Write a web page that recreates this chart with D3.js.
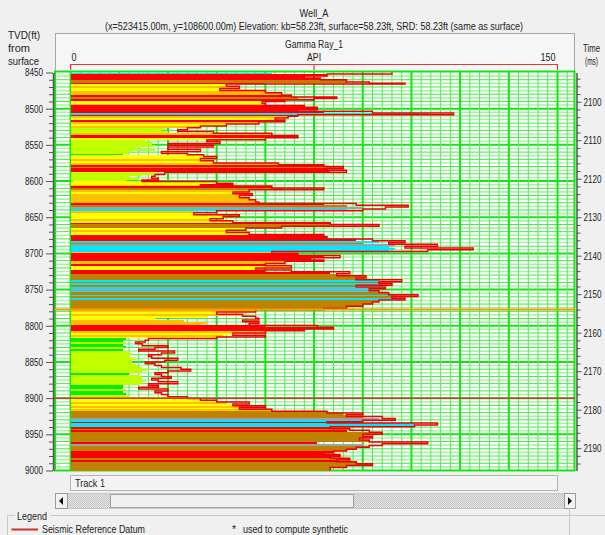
<!DOCTYPE html>
<html lang="en">
<head>
<meta charset="UTF-8">
<title>Well_A Gamma Ray</title>
<script src="https://d3js.org/d3.v7.min.js"></script>
<style>
  body { margin: 0; background: #f0f0f0; }
  svg text { font-family: "Liberation Sans", Arial, sans-serif; font-size: 10.5px; fill: #222; }
  .axis path, .axis line { stroke: #555; }
  .axis path { stroke-width: 1.5; }
</style>
</head>
<body>
<svg id="chart" width="605" height="535"></svg>
<script>
// log samples: top of each interval (ft), gamma ray value (API), where the colour fill stops, fill colour code
const segTop = [
  8450, 8452, 8455, 8457.5, 8460, 8463, 8465, 8466, 8469, 8472,
  8475, 8478, 8481.5, 8484, 8486, 8488, 8490, 8493, 8495.5, 8498,
  8501, 8503.5, 8506, 8508.5, 8510.5, 8513, 8515.5, 8518, 8521, 8524,
  8526.5, 8529, 8531.5, 8534, 8537, 8540, 8543, 8545.5, 8548, 8550.5,
  8553, 8556, 8559, 8562, 8563.5, 8566, 8569, 8572, 8575, 8577.5,
  8580, 8582.5, 8585, 8588, 8591, 8593.5, 8596, 8598.5, 8600.5, 8603,
  8605, 8607, 8609.5, 8612, 8615, 8617.5, 8620, 8623, 8626, 8629,
  8631, 8633.5, 8636, 8638.5, 8641, 8643.5, 8646.5, 8649, 8652, 8655,
  8657.5, 8660, 8662.5, 8665, 8668, 8671, 8674, 8677, 8680, 8682.5,
  8685, 8687.5, 8690, 8692.5, 8695, 8697.5, 8700, 8703, 8706, 8709,
  8711, 8714, 8717, 8720, 8723, 8725.5, 8728, 8731, 8734, 8736.5,
  8739, 8741.5, 8744, 8746.5, 8749, 8751.5, 8754, 8757, 8759.5, 8762,
  8764.5, 8767, 8770, 8773, 8776, 8778, 8781, 8784, 8787, 8789.5,
  8792, 8794.5, 8797, 8799.5, 8802, 8804.5, 8807, 8810, 8813, 8815.5,
  8817.5, 8820, 8822.5, 8825, 8827.5, 8830, 8832.5, 8835, 8837.5, 8840,
  8842.5, 8845, 8847.5, 8850, 8852.5, 8855, 8857.5, 8860, 8862.5, 8865,
  8867.5, 8870, 8872.5, 8875, 8877.5, 8880, 8882.5, 8885, 8887.5, 8890,
  8892.5, 8895, 8898, 8900.5, 8903, 8905.5, 8908, 8910.5, 8913, 8915.5,
  8918, 8920.5, 8923, 8925.5, 8928, 8930.5, 8932.5, 8934.5, 8937, 8939.5,
  8942, 8944.5, 8947, 8950, 8952.5, 8955, 8958, 8960.5, 8963, 8965.5,
  8968, 8970.5, 8973, 8975.5, 8978, 8980.5, 8983, 8985.5, 8988, 8990.5,
  8993, 8996
];
const grApi = [
  99, 79, 72, 77, 85, 92, 103, 48, 52, 46,
  60, 65, 68, 82, 75, 66, 59, 60, 72, 76,
  70, 93, 118, 70, 67, 63, 66, 58, 48, 40,
  36, 33, 44, 62, 70, 60, 42, 46, 30, 44,
  30, 40, 28, 36, 41, 45, 40, 44, 64, 78,
  84, 79, 85, 29, 26, 25, 27, 22, 45, 50,
  40, 62, 78, 55, 50, 56, 52, 55, 57, 58,
  88, 104, 97, 90, 45, 38, 52, 47, 43, 50,
  80, 95, 65, 54, 48, 55, 78, 79, 93, 103,
  98, 113, 103, 124, 110, 62, 70, 83, 74, 78,
  66, 60, 68, 57, 68, 86, 82, 91, 88, 102,
  95, 99, 88, 97, 92, 95, 98, 107, 99, 103,
  95, 93, 90, 85, 78, 57, 45, 53, 57, 58,
  53, 58, 55, 76, 81, 72, 60, 50, 60, 45,
  24, 23, 20, 22, 30, 26, 21, 32, 28, 24,
  25, 33, 29, 23, 26, 28, 34, 37, 30, 26,
  28, 31, 25, 27, 33, 24, 27, 21, 30, 26,
  28, 30, 36, 40, 45, 55, 50, 60, 52, 62,
  79, 90, 85, 96, 100, 90, 79, 113, 106, 80,
  86, 92, 96, 90, 93, 89, 92, 110, 96, 92,
  88, 85, 81, 78, 83, 80, 86, 82, 88, 93,
  85, 80
];
const fillApi = [
  62, 79, 72, 77, 85, 85, 60, 48, 52, 46,
  60, 65, 68, 70, 75, 66, 59, 60, 72, 76,
  70, 78, 110, 70, 67, 63, 66, 58, 48, 40,
  29, 28, 30, 62, 70, 60, 23, 25, 25, 26,
  20, 26, 18, 16, 41, 45, 40, 44, 64, 78,
  84, 79, 80, 26, 22, 18, 21, 17, 45, 43,
  40, 62, 65, 55, 50, 56, 52, 55, 57, 58,
  78, 85, 90, 85, 38, 38, 52, 47, 43, 50,
  80, 80, 65, 54, 48, 55, 78, 79, 88, 95,
  90, 100, 98, 100, 98, 62, 70, 78, 74, 78,
  66, 60, 68, 57, 60, 80, 82, 91, 88, 95,
  95, 96, 88, 97, 92, 95, 98, 100, 99, 103,
  95, 93, 90, 85, 78, 57, 45, 53, 42, 26,
  35, 42, 40, 60, 81, 72, 60, 50, 47, 45,
  17, 16, 17, 16, 17, 16, 16, 18, 19, 18,
  19, 20, 19, 19, 20, 21, 22, 24, 22, 18,
  21, 22, 22, 23, 22, 21, 16, 16, 17, 16,
  17, 18, 34, 40, 45, 48, 50, 60, 52, 62,
  79, 84, 85, 90, 95, 90, 79, 106, 106, 80,
  86, 85, 96, 90, 93, 89, 92, 76, 90, 92,
  88, 85, 81, 78, 83, 80, 86, 82, 88, 93,
  85, 80
];
const lith = [
  "C","R","R","R","B","B","R","Y","O","Y",
  "O","O","R","B","R","R","Y","O","R","R",
  "R","R","C","R","O","Y","R","O","Y","O",
  "G","G","G","O","R","Y","G","G","G","G",
  "G","G","G","N","Y","Y","O","Y","O","R",
  "B","R","R","G","G","G","G","G","Y","Y",
  "O","R","B","O","Y","O","O","O","O","O",
  "R","B","S","C","O","Y","Y","Y","O","Y",
  "R","B","B","Y","O","Y","R","R","R","C",
  "B","S","C","C","C","O","R","R","R","R",
  "O","R","Y","Y","R","R","B","B","B","C",
  "B","C","B","C","S","C","B","C","B","C",
  "B","B","B","B","B","O","Y","O","Y","Y",
  "O","O","O","R","R","R","O","Y","O","Y",
  "N","N","G","N","N","G","N","G","G","G",
  "G","G","G","G","G","G","G","G","G","N",
  "G","G","G","G","G","G","N","N","G","N",
  "N","G","O","Y","Y","O","Y","O","Y","O",
  "B","B","B","B","S","C","R","C","C","R",
  "B","R","B","B","B","B","B","R","S","B",
  "B","B","R","R","R","R","B","R","B","B",
  "B","B"
];
const depthTicks = [8450, 8500, 8550, 8600, 8650, 8700, 8750, 8800, 8850, 8900, 8950, 9000];
const timeTicks = [2100, 2110, 2120, 2130, 2140, 2150, 2160, 2170, 2180, 2190];
const markerDepths = [8777.5, 8900];
const markerColors = ["#f0a000", "#c83c32"];
const lithColor = { R: "#ff0000", O: "#ffc000", Y: "#ffff00", G: "#c0ff00", N: "#00f000", B: "#c08000", C: "#00e8ff", S: "#a0a0aa" };

const svg = d3.select("#chart");
const depthMax = 9000;

const y = d3.scaleLinear().domain([8450, depthMax]).range([72.5, 470.5]);
const yTime = d3.scaleLinear().domain([2092.4, 2195.8]).range([72.5, 470.5]);
const x = d3.scaleLinear().domain([0, 150]).range([70.6, 557.5]);

const plotLeft = 54, plotRight = 575, trackLeft = x(0);

// the original uses a narrow UI font, so texts are squeezed to its widths
function label(px, py, str, w, anchor) {
  const t = svg.append("text").attr("x", px).attr("y", py).text(str);
  if (anchor) t.attr("text-anchor", anchor);
  if (w) t.attr("textLength", w).attr("lengthAdjust", "spacingAndGlyphs");
  return t;
}

// titles
label(314, 17, "Well_A", 29, "middle");
label(314, 30, "(x=523415.00m, y=108600.00m) Elevation: kb=58.23ft, surface=58.23ft, SRD: 58.23ft (same as surface)", 418, "middle");
label(8, 39, "TVD(ft)", 32);
label(8, 52, "from", 22);
label(8, 65, "surface", 31);
label(583, 52, "Time", 17);
label(585, 65, "(ms)", 13);

// track header
svg.append("rect").attr("x", 55.5).attr("y", 33.5).attr("width", 519).attr("height", 38)
  .attr("fill", "#f6f6f6").attr("stroke", "#a8a8a8");
label(x(75), 48, "Gamma Ray_1", 58, "middle");
label(x(0) + 1, 61, "0", 5);
label(x(75), 61, "API", 14, "middle");
label(x(150) - 2, 61, "150", 15, "end");
svg.append("path")
  .attr("d", `M${x(0)},70V64.5H${x(150)}V70M${x(75)},64.5V70`)
  .attr("fill", "none").attr("stroke", "#e23a3a").attr("stroke-width", 1.2);

// plot background
svg.append("rect").attr("x", plotLeft).attr("y", 71).attr("width", plotRight - plotLeft).attr("height", 400.5)
  .attr("fill", "#fff");

svg.append("clipPath").attr("id", "trackClip")
  .append("rect").attr("x", trackLeft).attr("y", 71).attr("width", plotRight - trackLeft).attr("height", 400.5);

const grid = svg.append("g");
// horizontal grid, every 5 ft
d3.range(8455, depthMax, 5).forEach(d => {
  const major = d % 50 === 0, ten = d % 10 === 0;
  grid.append("line")
    .attr("x1", plotLeft).attr("x2", plotRight).attr("y1", y(d)).attr("y2", y(d))
    .attr("stroke", major ? "#14e614" : ten ? "#40ea40" : "#a8f4a8")
    .attr("stroke-width", major ? 2 : ten ? 1 : 1.6);
});
// vertical grid, every 3 API
d3.range(3, 155, 3).forEach(v => {
  const major = v % 15 === 0;
  grid.append("line")
    .attr("x1", x(v)).attr("x2", x(v)).attr("y1", 71).attr("y2", 471)
    .attr("stroke", major ? "#14e614" : "#52ea52")
    .attr("stroke-width", major ? 2 : 1);
});
[plotLeft + 1, trackLeft, plotRight - 0.5].forEach(v => {
  grid.append("line").attr("x1", v).attr("x2", v).attr("y1", 71).attr("y2", 471)
    .attr("stroke", "#14e614").attr("stroke-width", 2);
});
[71.5, 470.5].forEach(v => {
  grid.append("line").attr("x1", plotLeft).attr("x2", plotRight).attr("y1", v).attr("y2", v)
    .attr("stroke", "#14e614").attr("stroke-width", 2);
});

// log intervals
const segs = segTop.map((t, i) => ({
  top: t,
  bottom: i < segTop.length - 1 ? segTop[i + 1] : depthMax,
  gr: grApi[i],
  fill: fillApi[i],
  code: lith[i]
}));

const logG = svg.append("g").attr("clip-path", "url(#trackClip)");
logG.selectAll("rect.seg")
  .data(segs)
  .enter()
  .append("rect")
  .attr("class", "seg")
  .attr("x", trackLeft)
  .attr("y", d => y(d.top))
  .attr("width", d => x(d.fill) - trackLeft)
  .attr("height", d => y(d.bottom) - y(d.top))
  .attr("fill", d => lithColor[d.code])
  .attr("shape-rendering", "crispEdges");

const curvePts = [];
segs.forEach(d => {
  curvePts.push([d.gr, d.top]);
  curvePts.push([d.gr, d.bottom]);
});
const line = d3.line().x(p => x(p[0])).y(p => y(p[1]));
logG.append("path")
  .attr("d", line(curvePts))
  .attr("fill", "none")
  .attr("stroke", "#f00000")
  .attr("stroke-width", 1.5);

// marker lines
markerDepths.forEach((d, i) => {
  svg.append("line").attr("x1", plotLeft).attr("x2", plotRight).attr("y1", y(d)).attr("y2", y(d))
    .attr("stroke", markerColors[i]).attr("stroke-width", i === 0 ? 2 : 1.5);
});

const squeeze = g => g.selectAll("text").attr("font-size", null)
  .attr("textLength", 18).attr("lengthAdjust", "spacingAndGlyphs");

// depth axis
svg.append("g").attr("class", "axis").attr("transform", "translate(53,0)")
  .call(d3.axisLeft(y).tickValues(d3.range(8460, depthMax, 10).filter(d => d % 50 !== 0))
    .tickSize(4).tickSizeOuter(0).tickFormat(""))
  .call(g => g.select(".domain").remove());
svg.append("g").attr("class", "axis").attr("transform", "translate(53,0)")
  .call(d3.axisLeft(y).tickValues(depthTicks).tickSize(7).tickSizeOuter(0).tickPadding(3).tickFormat(d3.format("d")))
  .call(squeeze);

// time axis
svg.append("g").attr("class", "axis").attr("transform", "translate(576.5,0)")
  .call(d3.axisRight(yTime).tickValues(d3.range(2094, 2196, 2).filter(d => d % 10 !== 0))
    .tickSize(4).tickSizeOuter(0).tickFormat(""))
  .call(g => g.select(".domain").remove());
svg.append("g").attr("class", "axis").attr("transform", "translate(576.5,0)")
  .call(d3.axisRight(yTime).tickValues(timeTicks).tickSize(5).tickSizeOuter(0).tickPadding(2).tickFormat(d3.format("d")))
  .call(squeeze);

// track footer
svg.append("rect").attr("x", 70.5).attr("y", 475.5).attr("width", 487).attr("height", 15)
  .attr("fill", "#f4f4f4").attr("stroke", "#b4b4b4");
label(75, 487, "Track 1", 30);

// scrollbar
const pat = svg.append("defs").append("pattern").attr("id", "hatch")
  .attr("width", 2).attr("height", 2).attr("patternUnits", "userSpaceOnUse");
pat.append("rect").attr("width", 2).attr("height", 2).attr("fill", "#e6e6e6");
pat.append("rect").attr("width", 1).attr("height", 1).attr("fill", "#c4c4c4");
pat.append("rect").attr("x", 1).attr("y", 1).attr("width", 1).attr("height", 1).attr("fill", "#c4c4c4");
svg.append("rect").attr("x", 55.5).attr("y", 493.5).attr("width", 520).attr("height", 15)
  .attr("fill", "url(#hatch)").attr("stroke", "#c8c8c8");
[[55.5, 12], [564.5, 11]].forEach(([bx, bw]) => {
  svg.append("rect").attr("x", bx).attr("y", 493.5).attr("width", bw).attr("height", 15)
    .attr("fill", "#f2f2f2").attr("stroke", "#9a9a9a");
});
svg.append("path").attr("d", "M59,501L63,497V505Z").attr("fill", "#111");
svg.append("path").attr("d", "M572,501L568,497V505Z").attr("fill", "#111");
svg.append("rect").attr("x", 110.5).attr("y", 494.5).attr("width", 243).attr("height", 13)
  .attr("fill", "#f0f0f0").attr("stroke", "#a0a0a0");

// legend box
svg.append("path").attr("d", "M15,515.5H7.5V535M50,515.5H605")
  .attr("fill", "none").attr("stroke", "#c8c8c8");
label(17, 520, "Legend", 30);
svg.append("line").attr("x1", 11.5).attr("x2", 38).attr("y1", 529.5).attr("y2", 529.5)
  .attr("stroke", "#c83232").attr("stroke-width", 2);
label(42, 533, "Seismic Reference Datum", 103);
label(232, 533, "*");
label(243, 533, "used to compute synthetic", 105);
svg.append("line").attr("x1", 569.5).attr("x2", 569.5).attr("y1", 508).attr("y2", 535).attr("stroke", "#c8c8c8");
</script>
</body>
</html>
